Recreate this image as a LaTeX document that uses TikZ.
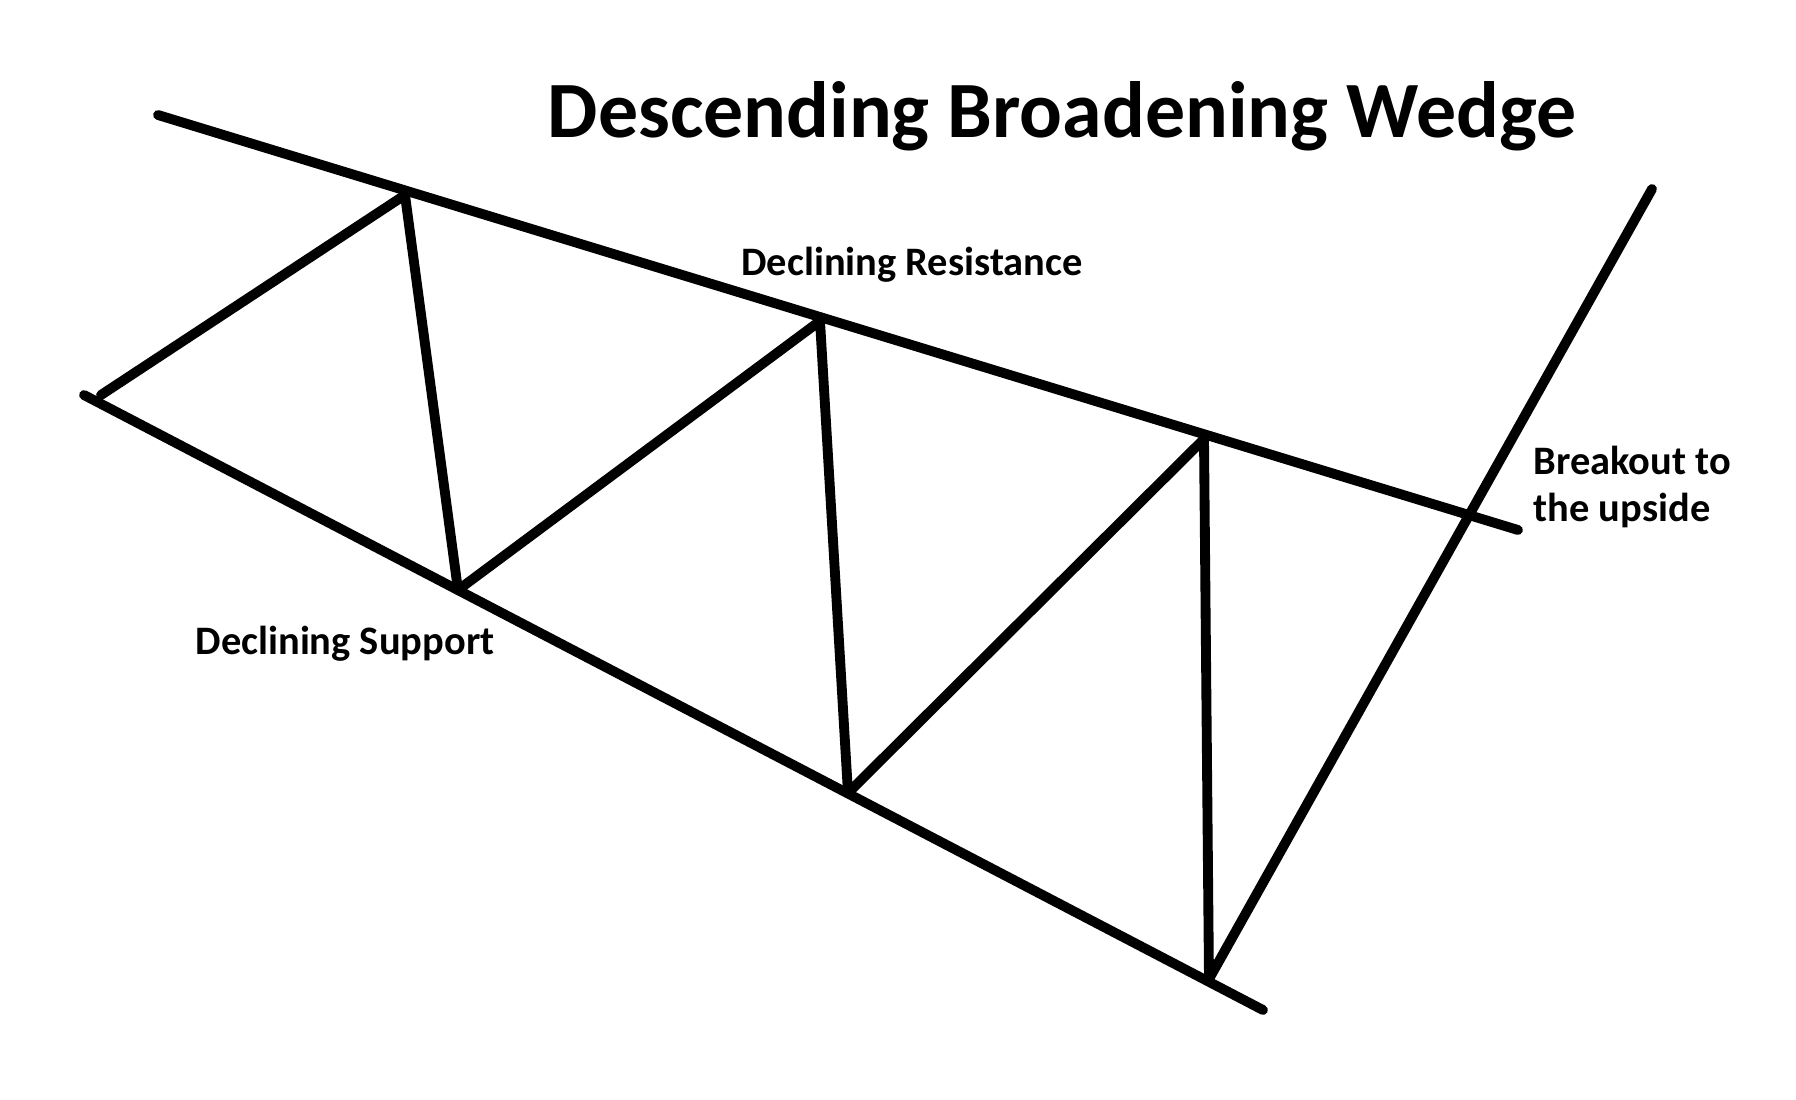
\documentclass[tikz,border=0pt]{standalone}
\usepackage{fontspec}
\setmainfont{Carlito}
\usetikzlibrary{positioning}

\begin{document}
\begin{tikzpicture}[
  x=0.01cm, y=-0.01cm,
  trend/.style={line width=2.8pt, line cap=round, line join=round},
  lbl/.style={font=\fontsize{11.5}{13.6}\selectfont\bfseries, align=left, inner sep=0pt},
  ttl/.style={font=\fontsize{22.7}{26}\selectfont\bfseries, inner sep=0pt}
]
\useasboundingbox (0,0) rectangle (1796,1100);

% Trend lines
\coordinate (R1) at (158,115);
\coordinate (R2) at (1518,530);
\coordinate (S1) at (84,395);
\coordinate (S2) at (1263,1010);
\draw[trend] (R1) -- (R2);
\draw[trend] (S1) -- (S2);

% Price swings
\coordinate (P0) at (101,395);
\coordinate (P1) at (405,195);
\coordinate (P2) at (458,590);
\coordinate (P3) at (820,321);
\coordinate (P4) at (848,793);
\coordinate (P5) at (1204,439);
\coordinate (P6) at (1209,979);
\coordinate (P7) at (1652,189);
\draw[trend] (P0) -- (P1) -- (P2) -- (P3) -- (P4) -- (P5) -- (P6) -- (P7);

% Labels
\node[ttl] (title) at (1062,116) {Descending Broadening Wedge};
\node[lbl] (res) at (912,265) {Declining Resistance};
\node[lbl] (sup) at (345,644) {Declining Support};
\node[lbl, anchor=west] (brk) at (1533,487) {Breakout to\\the upside};

\end{tikzpicture}
\end{document}
